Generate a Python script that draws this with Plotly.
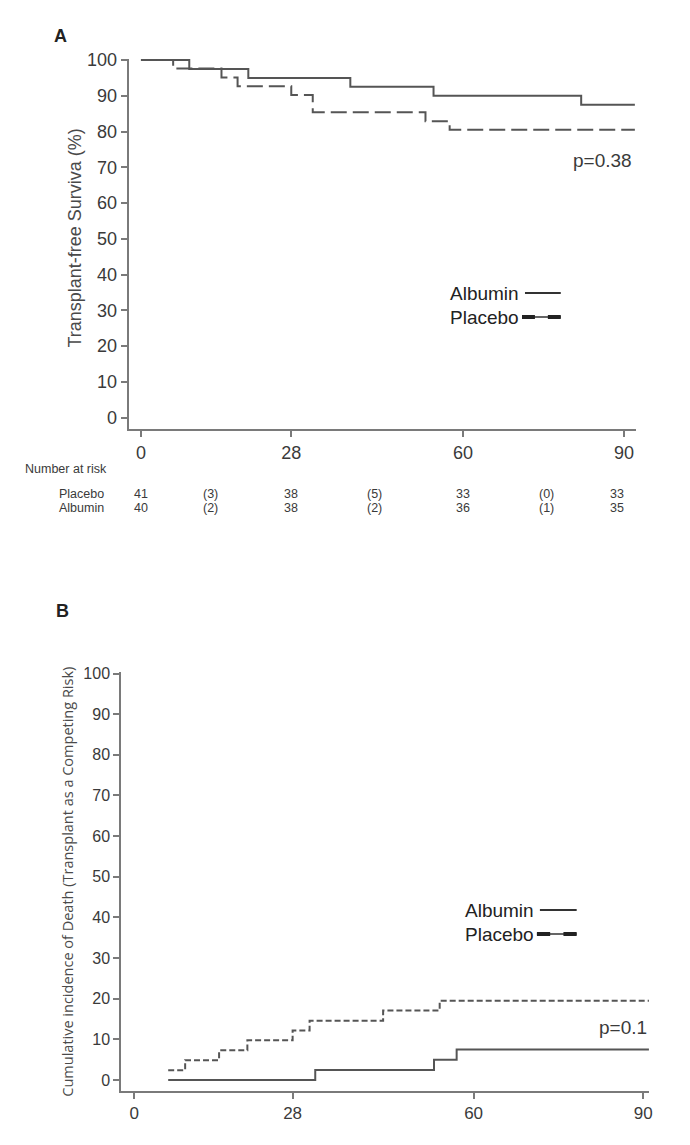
import plotly.graph_objects as go

# ---------------- data ----------------
# Panel A: transplant-free survival (%)
a_alb_days = [0, 9, 20, 39, 54.5, 82, 92]
a_alb_surv = [100, 97.5, 95.0, 92.5, 90.0, 87.5, 87.5]
a_pla_days = [0, 6, 15, 18, 28, 32, 53, 57.5, 92]
a_pla_surv = [100, 97.6, 95.1, 92.7, 90.2, 85.4, 82.9, 80.5, 80.5]

# Panel B: cumulative incidence of death (%)
b_alb_days = [6, 32, 53, 57, 91]
b_alb_inc = [0, 2.5, 5.0, 7.5, 7.5]
b_pla_days = [6, 9, 15, 20, 28, 31, 44, 54, 91]
b_pla_inc = [2.4, 4.9, 7.3, 9.8, 12.2, 14.6, 17.1, 19.5, 19.5]

x_ticks = [0, 28, 60, 90]
y_ticks = list(range(0, 101, 10))

# Number at risk table (panel A)
risk_cols_day = [0, 13, 28, 43.5, 60, 75.5, 88.7]
risk_placebo = ["41", "(3)", "38", "(5)", "33", "(0)", "33"]
risk_albumin = ["40", "(2)", "38", "(2)", "36", "(1)", "35"]

p_a = "p=0.38"
p_b = "p=0.1"

# ---------------- layout helpers ----------------
W, H = 690, 1145
XOFF = 8
YOFF = 16
YSC = 0.993
def px(x):
    return (x - XOFF) / W
def py(y):
    return 1 - ((y - YOFF) / YSC) / H

LINE = "#555555"
AXC = "#7a7a7a"
TXT = "#3a3a3a"
FONT = "Liberation Sans, Arial, sans-serif"

fig = go.Figure()

fig.add_trace(go.Scatter(x=a_alb_days, y=a_alb_surv, mode="lines", line_shape="hv",
                         line=dict(color=LINE, width=2), xaxis="x", yaxis="y", showlegend=False))
fig.add_trace(go.Scatter(x=a_pla_days, y=a_pla_surv, mode="lines", line_shape="hv",
                         line=dict(color=LINE, width=2, dash="16px,6px"), xaxis="x", yaxis="y", showlegend=False))
fig.add_trace(go.Scatter(x=b_alb_days, y=b_alb_inc, mode="lines", line_shape="hv",
                         line=dict(color=LINE, width=2), xaxis="x2", yaxis="y2", showlegend=False))
fig.add_trace(go.Scatter(x=b_pla_days, y=b_pla_inc, mode="lines", line_shape="hv",
                         line=dict(color=LINE, width=2, dash="6px,3px"), xaxis="x2", yaxis="y2", showlegend=False))

axis_common = dict(showgrid=False, zeroline=False, showline=True, linecolor=AXC, linewidth=2,
                   ticks="outside", tickcolor=AXC, tickwidth=1.5, ticklen=6)

fig.update_layout(
    width=W, height=H,
    margin=dict(l=0, r=0, t=0, b=0),
    paper_bgcolor="white", plot_bgcolor="white",
    font=dict(family=FONT, color=TXT),
    xaxis=dict(domain=[px(129.3), px(639.6)], range=[-2.3, 92.2], tickvals=x_ticks,
               tickfont=dict(size=18, color=TXT), anchor="y", **axis_common),
    yaxis=dict(domain=[py(429.3), py(58.6)], range=[-3.3, 100.4], tickvals=y_ticks,
               tickfont=dict(size=18, color=TXT), anchor="x", **axis_common),
    xaxis2=dict(domain=[px(121.9), px(652.7)], range=[-2.3, 91.0], tickvals=x_ticks,
                tickfont=dict(size=17, color=TXT), anchor="y2", **axis_common),
    yaxis2=dict(domain=[py(1090.6), py(672.3)], range=[-2.6, 100.3], tickvals=y_ticks,
                tickfont=dict(size=16, color=TXT), anchor="x2", **axis_common),
)

ann = []
# panel letters
ann.append(dict(text="<b>A</b>", x=px(52), y=py(36), xref="paper", yref="paper",
                xanchor="left", yanchor="middle", showarrow=False, font=dict(size=18, color="#222")))
ann.append(dict(text="<b>B</b>", x=px(54), y=py(611), xref="paper", yref="paper",
                xanchor="left", yanchor="middle", showarrow=False, font=dict(size=18, color="#222")))
# y titles
ann.append(dict(text="Transplant-free Surviva (%)", x=px(75), y=py(238), xref="paper", yref="paper",
                textangle=-90, xanchor="center", yanchor="middle", showarrow=False,
                font=dict(size=18, color="#4a4a4a")))
ann.append(dict(text="Cumulative incidence of Death (Transplant as a Competing Risk)", x=px(67), y=py(882),
                xref="paper", yref="paper", textangle=-90, xanchor="center", yanchor="middle",
                showarrow=False, font=dict(size=14.5, color="#4a4a4a", family="Open Sans, sans-serif")))
# p-values
ann.append(dict(text=p_a, x=px(638), y=py(160), xref="paper", yref="paper", xanchor="right",
                yanchor="middle", showarrow=False, font=dict(size=19, color=TXT)))
ann.append(dict(text=p_b, x=px(653), y=py(1027), xref="paper", yref="paper", xanchor="right",
                yanchor="middle", showarrow=False, font=dict(size=19, color=TXT)))

# legends (text + sample lines)
shapes = []
def legend(x_text, x0, x1, y_alb, y_pla):
    ann.append(dict(text="Albumin", x=px(x_text), y=py(y_alb), xref="paper", yref="paper",
                    xanchor="left", yanchor="middle", showarrow=False, font=dict(size=19, color="#222")))
    ann.append(dict(text="Placebo", x=px(x_text), y=py(y_pla), xref="paper", yref="paper",
                    xanchor="left", yanchor="middle", showarrow=False, font=dict(size=19, color="#222")))
    shapes.append(dict(type="line", xref="paper", yref="paper", x0=px(x0), x1=px(x1),
                       y0=py(y_alb), y1=py(y_alb), line=dict(color="#333", width=2)))
    shapes.append(dict(type="line", xref="paper", yref="paper", x0=px(x0 - 3), x1=px(x1),
                       y0=py(y_pla), y1=py(y_pla), line=dict(color="#333", width=1.5)))
    seg = (x1 - x0 + 3) / 3.0
    shapes.append(dict(type="line", xref="paper", yref="paper", x0=px(x0 - 3), x1=px(x0 - 3 + seg),
                       y0=py(y_pla), y1=py(y_pla), line=dict(color="#222", width=4)))
    shapes.append(dict(type="line", xref="paper", yref="paper", x0=px(x1 - seg), x1=px(x1),
                       y0=py(y_pla), y1=py(y_pla), line=dict(color="#222", width=4)))

legend(451, 528, 564, 293, 317)
legend(466, 543, 580, 910, 934)

# number at risk table
ann.append(dict(text="Number at risk", x=px(23), y=py(469), xref="paper", yref="paper",
                xanchor="left", yanchor="middle", showarrow=False, font=dict(size=12.5, color=TXT)))
ann.append(dict(text="Placebo", x=px(107), y=py(494), xref="paper", yref="paper",
                xanchor="right", yanchor="middle", showarrow=False, font=dict(size=12.5, color=TXT)))
ann.append(dict(text="Albumin", x=px(107), y=py(508), xref="paper", yref="paper",
                xanchor="right", yanchor="middle", showarrow=False, font=dict(size=12.5, color=TXT)))
for d, vp, va in zip(risk_cols_day, risk_placebo, risk_albumin):
    ann.append(dict(text=vp, x=d, y=py(494), xref="x", yref="paper", xanchor="center",
                    yanchor="middle", showarrow=False, font=dict(size=12.5, color=TXT)))
    ann.append(dict(text=va, x=d, y=py(508), xref="x", yref="paper", xanchor="center",
                    yanchor="middle", showarrow=False, font=dict(size=12.5, color=TXT)))

fig.update_layout(annotations=ann, shapes=shapes)
fig.write_html("out.html")
